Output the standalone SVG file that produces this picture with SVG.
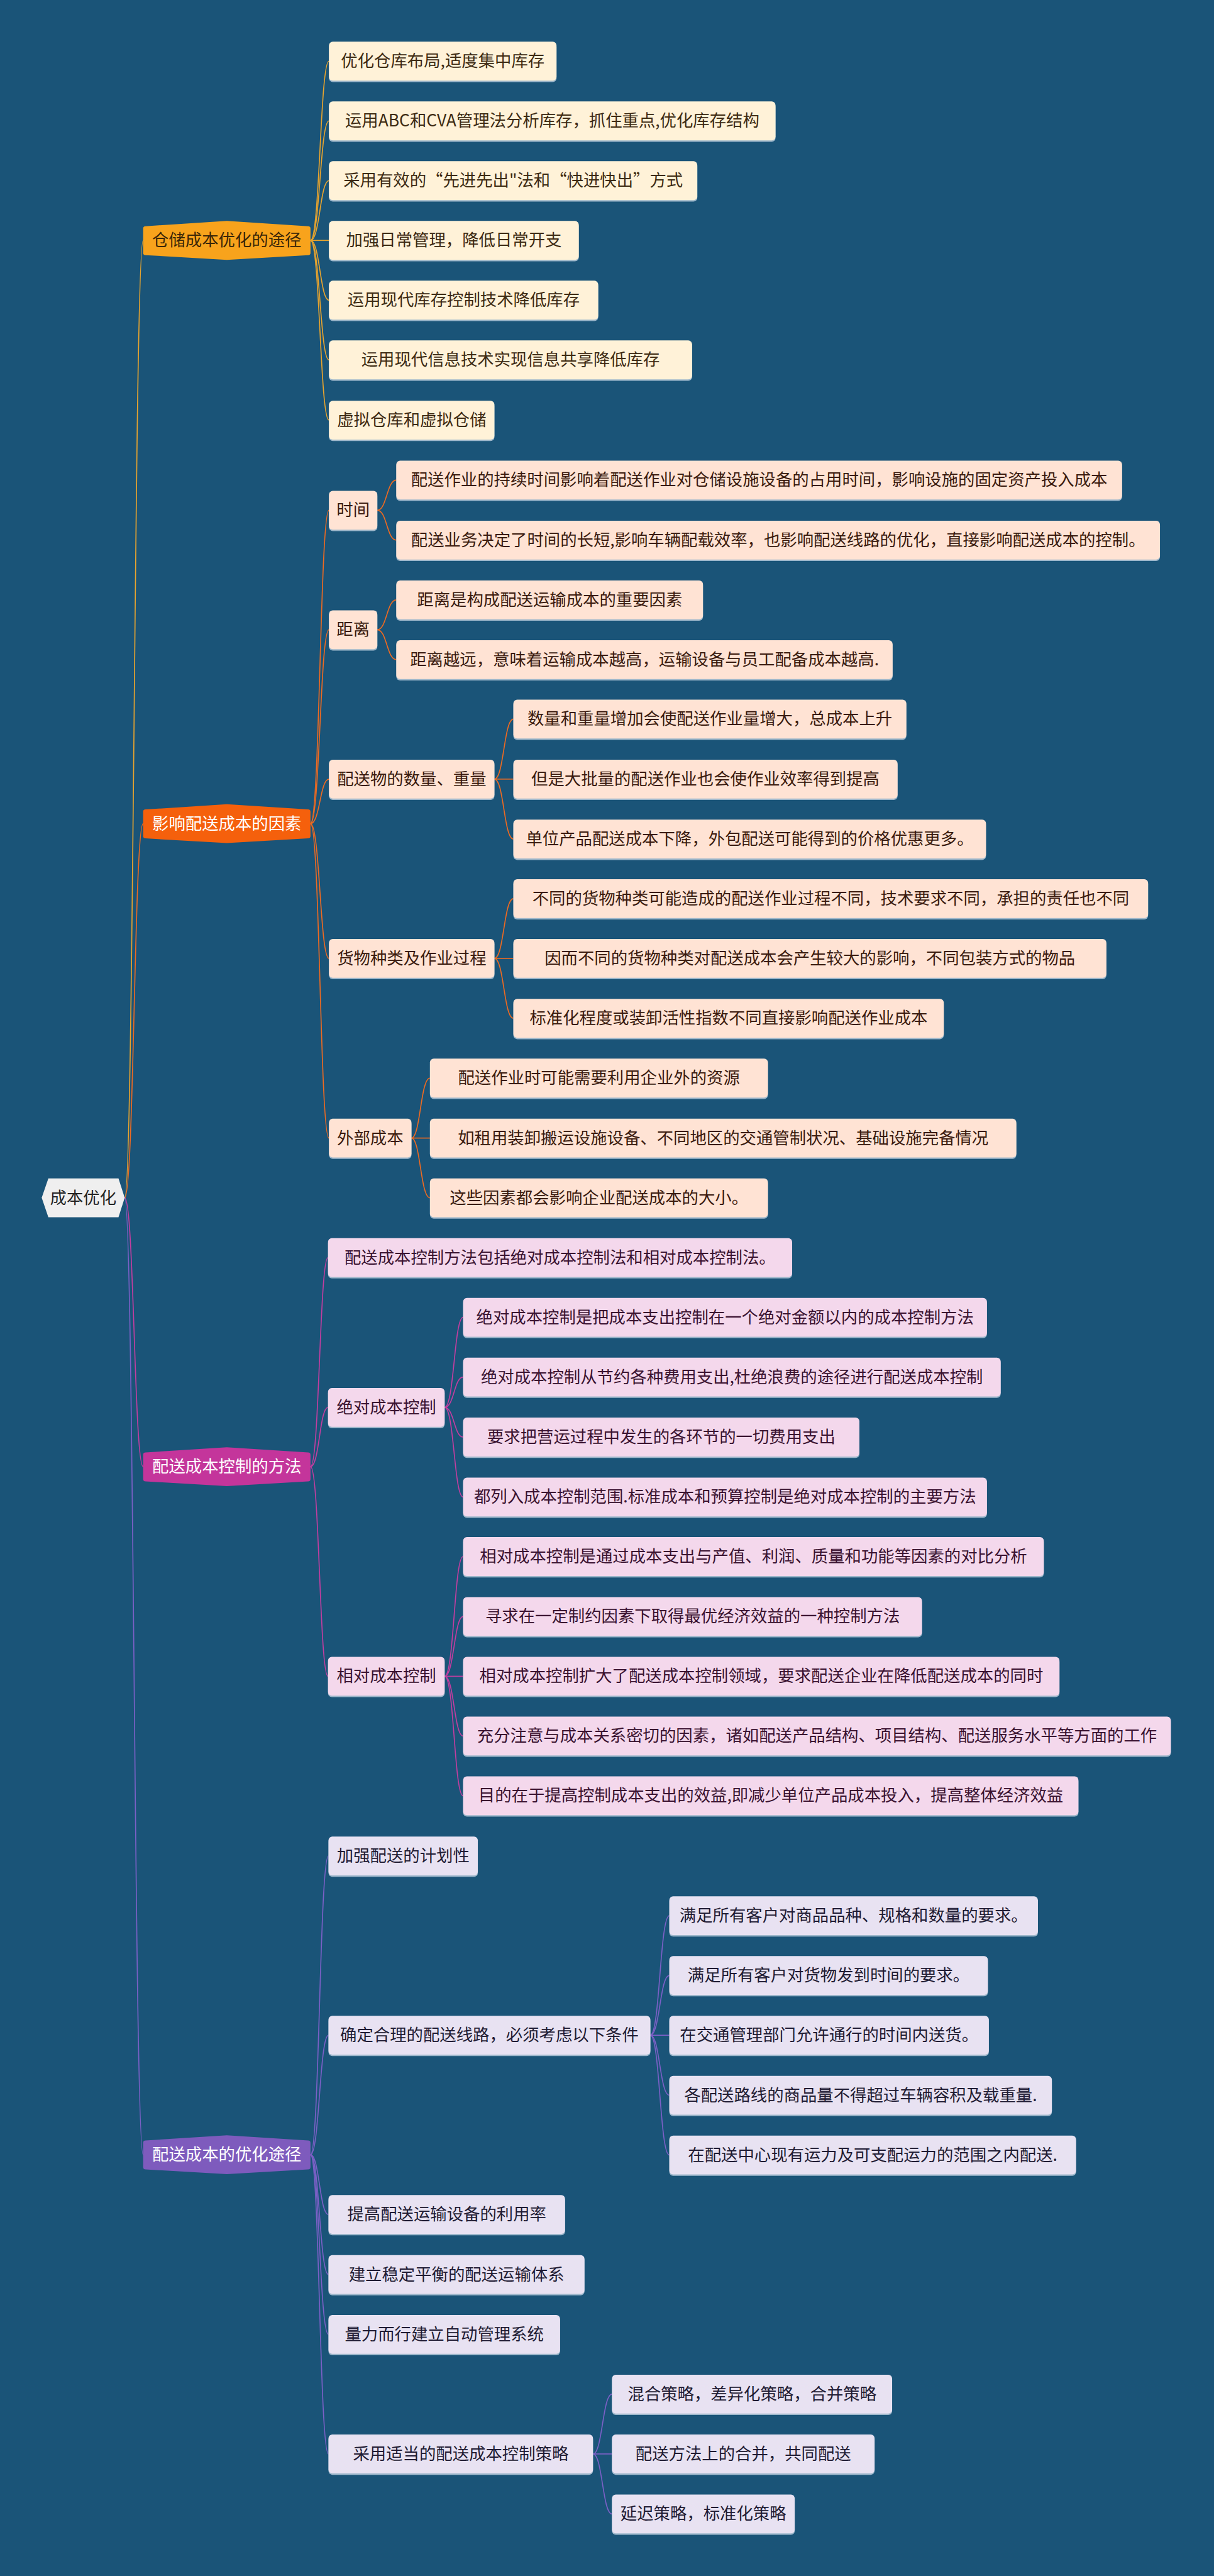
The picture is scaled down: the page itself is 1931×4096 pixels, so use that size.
<svg xmlns="http://www.w3.org/2000/svg" width="1931" height="4096" viewBox="0 0 1931 4096">
<style>
text{font-family:"Noto Sans CJK SC","Noto Sans",sans-serif;font-size:35px;text-anchor:middle}
.sh{fill:#9db7cb}
.c{fill:none;stroke-width:2.2}
.c1{stroke:#e8a42e}.c2{stroke:#ec6a22}.c3{stroke:#c23ea0}.c4{stroke:#7b60c6}
.l1{fill:#fff2d8}.l2{fill:#ffe3d4}.l3{fill:#f4d8ec}.l4{fill:#e8e2f2}
.t1{fill:#3d2a12}.t2{fill:#3a1a0e}.t3{fill:#3a1230}.t4{fill:#1f1b33}
.w{fill:#ffffff}
</style>
<rect x="0" y="0" width="1931" height="4096" fill="#1a5478"/>
<g transform="scale(0.754)">
<g id="connectors">
<path class="c c1" stroke-width="3" d="M263,2526 C283,2526 283,507 302,507"/>
<path class="c c2" stroke-width="3" d="M263,2526 C283,2526 283,1737 302,1737"/>
<path class="c c3" stroke-width="3" d="M263,2526 C283,2526 283,3093 302,3093"/>
<path class="c c4" stroke-width="3" d="M263,2526 C283,2526 283,4544 302,4544"/>
<!-- branch 1 -->
<path class="c c1" d="M655,507 C675,507 675,129 694,129"/>
<path class="c c1" d="M655,507 C675,507 675,255 694,255"/>
<path class="c c1" d="M655,507 C675,507 675,381 694,381"/>
<path class="c c1" d="M655,507 C675,507 675,507 694,507"/>
<path class="c c1" d="M655,507 C675,507 675,633 694,633"/>
<path class="c c1" d="M655,507 C675,507 675,759 694,759"/>
<path class="c c1" d="M655,507 C675,507 675,886 694,886"/>
<!-- branch 2 -->
<path class="c c2" d="M655,1737 C675,1737 675,1076 694,1076"/>
<path class="c c2" d="M655,1737 C675,1737 675,1328 694,1328"/>
<path class="c c2" d="M655,1737 C675,1737 675,1643 694,1643"/>
<path class="c c2" d="M655,1737 C675,1737 675,2021 694,2021"/>
<path class="c c2" d="M655,1737 C675,1737 675,2400 694,2400"/>
<path class="c c2" d="M796,1076 C816,1076 816,1012.5 836,1012.5"/>
<path class="c c2" d="M796,1076 C816,1076 816,1139 836,1139"/>
<path class="c c2" d="M796,1328 C816,1328 816,1265 836,1265"/>
<path class="c c2" d="M796,1328 C816,1328 816,1391 836,1391"/>
<path class="c c2" d="M1043,1643 C1063,1643 1063,1516.5 1083,1516.5"/>
<path class="c c2" d="M1043,1643 C1063,1643 1063,1643 1083,1643"/>
<path class="c c2" d="M1043,1643 C1063,1643 1063,1769.5 1083,1769.5"/>
<path class="c c2" d="M1043,2021 C1063,2021 1063,1895 1083,1895"/>
<path class="c c2" d="M1043,2021 C1063,2021 1063,2021 1083,2021"/>
<path class="c c2" d="M1043,2021 C1063,2021 1063,2147.5 1083,2147.5"/>
<path class="c c2" d="M868,2400 C887,2400 887,2273.5 907,2273.5"/>
<path class="c c2" d="M868,2400 C887,2400 887,2400 907,2400"/>
<path class="c c2" d="M868,2400 C887,2400 887,2526 907,2526"/>
<!-- branch 3 -->
<path class="c c3" d="M655,3093 C674,3093 674,2652 692,2652"/>
<path class="c c3" d="M655,3093 C674,3093 674,2968 692,2968"/>
<path class="c c3" d="M655,3093 C674,3093 674,3535 692,3535"/>
<path class="c c3" d="M938,2968 C958,2968 958,2778 977,2778"/>
<path class="c c3" d="M938,2968 C958,2968 958,2904 977,2904"/>
<path class="c c3" d="M938,2968 C958,2968 958,3030.5 977,3030.5"/>
<path class="c c3" d="M938,2968 C958,2968 958,3157 977,3157"/>
<path class="c c3" d="M938,3535 C958,3535 958,3282.5 977,3282.5"/>
<path class="c c3" d="M938,3535 C958,3535 958,3409 977,3409"/>
<path class="c c3" d="M938,3535 C958,3535 958,3535 977,3535"/>
<path class="c c3" d="M938,3535 C958,3535 958,3661 977,3661"/>
<path class="c c3" d="M938,3535 C958,3535 958,3787 977,3787"/>
<!-- branch 4 -->
<path class="c c4" d="M655,4544 C674,4544 674,3914 693,3914"/>
<path class="c c4" d="M655,4544 C674,4544 674,4292 693,4292"/>
<path class="c c4" d="M655,4544 C674,4544 674,4670 693,4670"/>
<path class="c c4" d="M655,4544 C674,4544 674,4796.5 693,4796.5"/>
<path class="c c4" d="M655,4544 C674,4544 674,4923 693,4923"/>
<path class="c c4" d="M655,4544 C674,4544 674,5175 693,5175"/>
<path class="c c4" d="M1372,4292 C1392,4292 1392,4040 1412,4040"/>
<path class="c c4" d="M1372,4292 C1392,4292 1392,4166 1412,4166"/>
<path class="c c4" d="M1372,4292 C1392,4292 1392,4292 1412,4292"/>
<path class="c c4" d="M1372,4292 C1392,4292 1392,4418.5 1412,4418.5"/>
<path class="c c4" d="M1372,4292 C1392,4292 1392,4544.5 1412,4544.5"/>
<path class="c c4" d="M1251,5175 C1271,5175 1271,5049 1291,5049"/>
<path class="c c4" d="M1251,5175 C1271,5175 1271,5175 1291,5175"/>
<path class="c c4" d="M1251,5175 C1271,5175 1271,5301.5 1291,5301.5"/>
</g>

<g id="root">
<polygon points="88,2526 102,2485 250,2485 263,2526 250,2567 102,2567" fill="#efefef"/>
<text x="175.5" y="2538" fill="#222222">成本优化</text>
</g>

<!-- Branch nodes -->
<g id="b1">
<path d="M302,482 Q302,477 307,477 L478.5,466 L650,477 Q655,477 655,482 L655,533 Q655,538 650,538 L478.5,548 L307,538 Q302,538 302,533 Z" fill="#f8a31c"/>
<text x="478.5" y="519" fill="#3a2608">仓储成本优化的途径</text>
</g>
<g id="b2">
<path d="M302,1712 Q302,1707 307,1707 L478.5,1696 L650,1707 Q655,1707 655,1712 L655,1763 Q655,1768 650,1768 L478.5,1778 L307,1768 Q302,1768 302,1763 Z" fill="#f5600c"/>
<text x="478.5" y="1749" class="w">影响配送成本的因素</text>
</g>
<g id="b3">
<path d="M302,3068 Q302,3063 307,3063 L478.5,3052 L650,3063 Q655,3063 655,3068 L655,3119 Q655,3124 650,3124 L478.5,3134 L307,3124 Q302,3124 302,3119 Z" fill="#c4359b"/>
<text x="478.5" y="3105" class="w">配送成本控制的方法</text>
</g>
<g id="b4">
<path d="M302,4519 Q302,4514 307,4514 L478.5,4503 L650,4514 Q655,4514 655,4519 L655,4570 Q655,4575 650,4575 L478.5,4585 L307,4575 Q302,4575 302,4570 Z" fill="#7e5bbd"/>
<text x="478.5" y="4556" class="w">配送成本的优化途径</text>
</g>

<!-- Branch 1 leaves -->
<g id="b1n1"><rect class="sh" x="694" y="91" width="480" height="82" rx="8"/><rect class="l1" x="694" y="88" width="480" height="82" rx="8"/><text class="t1" x="934" y="141">优化仓库布局,适度集中库存</text></g>
<g id="b1n2"><rect class="sh" x="694" y="217" width="942" height="82" rx="8"/><rect class="l1" x="694" y="214" width="942" height="82" rx="8"/><text class="t1" x="1165" y="267">运用ABC和CVA管理法分析库存，抓住重点,优化库存结构</text></g>
<g id="b1n3"><rect class="sh" x="694" y="343" width="777" height="82" rx="8"/><rect class="l1" x="694" y="340" width="777" height="82" rx="8"/><text class="t1" x="1082.5" y="393">采用有效的“先进先出"法和“快进快出”方式</text></g>
<g id="b1n4"><rect class="sh" x="694" y="469" width="527" height="82" rx="8"/><rect class="l1" x="694" y="466" width="527" height="82" rx="8"/><text class="t1" x="957.5" y="519">加强日常管理，降低日常开支</text></g>
<g id="b1n5"><rect class="sh" x="694" y="595" width="568" height="82" rx="8"/><rect class="l1" x="694" y="592" width="568" height="82" rx="8"/><text class="t1" x="978" y="645">运用现代库存控制技术降低库存</text></g>
<g id="b1n6"><rect class="sh" x="694" y="721" width="766" height="82" rx="8"/><rect class="l1" x="694" y="718" width="766" height="82" rx="8"/><text class="t1" x="1077" y="771">运用现代信息技术实现信息共享降低库存</text></g>
<g id="b1n7"><rect class="sh" x="694" y="848" width="349" height="82" rx="8"/><rect class="l1" x="694" y="845" width="349" height="82" rx="8"/><text class="t1" x="868.5" y="898">虚拟仓库和虚拟仓储</text></g>

<!-- Branch 2 -->
<g id="b2s1"><rect class="sh" x="694" y="1038" width="102" height="82" rx="8"/><rect class="l2" x="694" y="1035" width="102" height="82" rx="8"/><text class="t2" x="745" y="1088">时间</text></g>
<g id="b2s1a"><rect class="sh" x="836" y="974.5" width="1531" height="82" rx="8"/><rect class="l2" x="836" y="971.5" width="1531" height="82" rx="8"/><text class="t2" x="1601.5" y="1024.5">配送作业的持续时间影响着配送作业对仓储设施设备的占用时间，影响设施的固定资产投入成本</text></g>
<g id="b2s1b"><rect class="sh" x="836" y="1101" width="1611" height="82" rx="8"/><rect class="l2" x="836" y="1098" width="1611" height="82" rx="8"/><text class="t2" x="1641.5" y="1151">配送业务决定了时间的长短,影响车辆配载效率，也影响配送线路的优化，直接影响配送成本的控制。</text></g>
<g id="b2s2"><rect class="sh" x="694" y="1290" width="102" height="82" rx="8"/><rect class="l2" x="694" y="1287" width="102" height="82" rx="8"/><text class="t2" x="745" y="1340">距离</text></g>
<g id="b2s2a"><rect class="sh" x="836" y="1227" width="647" height="82" rx="8"/><rect class="l2" x="836" y="1224" width="647" height="82" rx="8"/><text class="t2" x="1159.5" y="1277">距离是构成配送运输成本的重要因素</text></g>
<g id="b2s2b"><rect class="sh" x="836" y="1353" width="1047" height="82" rx="8"/><rect class="l2" x="836" y="1350" width="1047" height="82" rx="8"/><text class="t2" x="1359.5" y="1403">距离越远，意味着运输成本越高，运输设备与员工配备成本越高.</text></g>
<g id="b2s3"><rect class="sh" x="694" y="1605" width="349" height="82" rx="8"/><rect class="l2" x="694" y="1602" width="349" height="82" rx="8"/><text class="t2" x="868.5" y="1655">配送物的数量、重量</text></g>
<g id="b2s3a"><rect class="sh" x="1083" y="1478.5" width="829" height="82" rx="8"/><rect class="l2" x="1083" y="1475.5" width="829" height="82" rx="8"/><text class="t2" x="1497.5" y="1528.5">数量和重量增加会使配送作业量增大，总成本上升</text></g>
<g id="b2s3b"><rect class="sh" x="1083" y="1605" width="810.5" height="82" rx="8"/><rect class="l2" x="1083" y="1602" width="810.5" height="82" rx="8"/><text class="t2" x="1488" y="1655">但是大批量的配送作业也会使作业效率得到提高</text></g>
<g id="b2s3c"><rect class="sh" x="1083" y="1731.5" width="997" height="82" rx="8"/><rect class="l2" x="1083" y="1728.5" width="997" height="82" rx="8"/><text class="t2" x="1581.5" y="1781.5">单位产品配送成本下降，外包配送可能得到的价格优惠更多。</text></g>
<g id="b2s4"><rect class="sh" x="694" y="1983" width="349" height="82" rx="8"/><rect class="l2" x="694" y="1980" width="349" height="82" rx="8"/><text class="t2" x="868.5" y="2033">货物种类及作业过程</text></g>
<g id="b2s4a"><rect class="sh" x="1083" y="1857" width="1339" height="82" rx="8"/><rect class="l2" x="1083" y="1854" width="1339" height="82" rx="8"/><text class="t2" x="1752.5" y="1907">不同的货物种类可能造成的配送作业过程不同，技术要求不同，承担的责任也不同</text></g>
<g id="b2s4b"><rect class="sh" x="1083" y="1983" width="1251" height="82" rx="8"/><rect class="l2" x="1083" y="1980" width="1251" height="82" rx="8"/><text class="t2" x="1708.5" y="2033">因而不同的货物种类对配送成本会产生较大的影响，不同包装方式的物品</text></g>
<g id="b2s4c"><rect class="sh" x="1083" y="2109.5" width="908" height="82" rx="8"/><rect class="l2" x="1083" y="2106.5" width="908" height="82" rx="8"/><text class="t2" x="1537" y="2159.5">标准化程度或装卸活性指数不同直接影响配送作业成本</text></g>
<g id="b2s5"><rect class="sh" x="694" y="2362" width="174" height="82" rx="8"/><rect class="l2" x="694" y="2359" width="174" height="82" rx="8"/><text class="t2" x="781" y="2412">外部成本</text></g>
<g id="b2s5a"><rect class="sh" x="907" y="2235.5" width="713" height="82" rx="8"/><rect class="l2" x="907" y="2232.5" width="713" height="82" rx="8"/><text class="t2" x="1263.5" y="2285.5">配送作业时可能需要利用企业外的资源</text></g>
<g id="b2s5b"><rect class="sh" x="907" y="2362" width="1237" height="82" rx="8"/><rect class="l2" x="907" y="2359" width="1237" height="82" rx="8"/><text class="t2" x="1525.5" y="2412">如租用装卸搬运设施设备、不同地区的交通管制状况、基础设施完备情况</text></g>
<g id="b2s5c"><rect class="sh" x="907" y="2488" width="713" height="82" rx="8"/><rect class="l2" x="907" y="2485" width="713" height="82" rx="8"/><text class="t2" x="1263.5" y="2538">这些因素都会影响企业配送成本的大小。</text></g>

<!-- Branch 3 -->
<g id="b3n1"><rect class="sh" x="692" y="2614" width="979" height="82" rx="8"/><rect class="l3" x="692" y="2611" width="979" height="82" rx="8"/><text class="t3" x="1181.5" y="2664">配送成本控制方法包括绝对成本控制法和相对成本控制法。</text></g>
<g id="b3s1"><rect class="sh" x="692" y="2930" width="246" height="82" rx="8"/><rect class="l3" x="692" y="2927" width="246" height="82" rx="8"/><text class="t3" x="815" y="2980">绝对成本控制</text></g>
<g id="b3s1a"><rect class="sh" x="977" y="2740" width="1105" height="82" rx="8"/><rect class="l3" x="977" y="2737" width="1105" height="82" rx="8"/><text class="t3" x="1529.5" y="2790">绝对成本控制是把成本支出控制在一个绝对金额以内的成本控制方法</text></g>
<g id="b3s1b"><rect class="sh" x="977" y="2866" width="1134" height="82" rx="8"/><rect class="l3" x="977" y="2863" width="1134" height="82" rx="8"/><text class="t3" x="1544" y="2916">绝对成本控制从节约各种费用支出,杜绝浪费的途径进行配送成本控制</text></g>
<g id="b3s1c"><rect class="sh" x="977" y="2992.5" width="836" height="82" rx="8"/><rect class="l3" x="977" y="2989.5" width="836" height="82" rx="8"/><text class="t3" x="1395" y="3042.5">要求把营运过程中发生的各环节的一切费用支出</text></g>
<g id="b3s1d"><rect class="sh" x="977" y="3119" width="1105" height="82" rx="8"/><rect class="l3" x="977" y="3116" width="1105" height="82" rx="8"/><text class="t3" x="1529.5" y="3169">都列入成本控制范围.标准成本和预算控制是绝对成本控制的主要方法</text></g>
<g id="b3s2"><rect class="sh" x="692" y="3497" width="246" height="82" rx="8"/><rect class="l3" x="692" y="3494" width="246" height="82" rx="8"/><text class="t3" x="815" y="3547">相对成本控制</text></g>
<g id="b3s2a"><rect class="sh" x="977" y="3244.5" width="1225" height="82" rx="8"/><rect class="l3" x="977" y="3241.5" width="1225" height="82" rx="8"/><text class="t3" x="1589.5" y="3294.5">相对成本控制是通过成本支出与产值、利润、质量和功能等因素的对比分析</text></g>
<g id="b3s2b"><rect class="sh" x="977" y="3371" width="968" height="82" rx="8"/><rect class="l3" x="977" y="3368" width="968" height="82" rx="8"/><text class="t3" x="1461" y="3421">寻求在一定制约因素下取得最优经济效益的一种控制方法</text></g>
<g id="b3s2c"><rect class="sh" x="977" y="3497" width="1258" height="82" rx="8"/><rect class="l3" x="977" y="3494" width="1258" height="82" rx="8"/><text class="t3" x="1606" y="3547">相对成本控制扩大了配送成本控制领域，要求配送企业在降低配送成本的同时</text></g>
<g id="b3s2d"><rect class="sh" x="977" y="3623" width="1493" height="82" rx="8"/><rect class="l3" x="977" y="3620" width="1493" height="82" rx="8"/><text class="t3" x="1723.5" y="3673">充分注意与成本关系密切的因素，诸如配送产品结构、项目结构、配送服务水平等方面的工作</text></g>
<g id="b3s2e"><rect class="sh" x="977" y="3749" width="1298" height="82" rx="8"/><rect class="l3" x="977" y="3746" width="1298" height="82" rx="8"/><text class="t3" x="1626" y="3799">目的在于提高控制成本支出的效益,即减少单位产品成本投入，提高整体经济效益</text></g>

<!-- Branch 4 -->
<g id="b4n1"><rect class="sh" x="693" y="3876" width="315" height="82" rx="8"/><rect class="l4" x="693" y="3873" width="315" height="82" rx="8"/><text class="t4" x="850.5" y="3926">加强配送的计划性</text></g>
<g id="b4s1"><rect class="sh" x="693" y="4254" width="679" height="82" rx="8"/><rect class="l4" x="693" y="4251" width="679" height="82" rx="8"/><text class="t4" x="1032.5" y="4304">确定合理的配送线路，必须考虑以下条件</text></g>
<g id="b4s1a"><rect class="sh" x="1412" y="4002" width="777.5" height="82" rx="8"/><rect class="l4" x="1412" y="3999" width="777.5" height="82" rx="8"/><text class="t4" x="1800.75" y="4052">满足所有客户对商品品种、规格和数量的要求。</text></g>
<g id="b4s1b"><rect class="sh" x="1412" y="4128" width="672" height="82" rx="8"/><rect class="l4" x="1412" y="4125" width="672" height="82" rx="8"/><text class="t4" x="1748" y="4178">满足所有客户对货物发到时间的要求。</text></g>
<g id="b4s1c"><rect class="sh" x="1412" y="4254" width="674" height="82" rx="8"/><rect class="l4" x="1412" y="4251" width="674" height="82" rx="8"/><text class="t4" x="1749" y="4304">在交通管理部门允许通行的时间内送货。</text></g>
<g id="b4s1d"><rect class="sh" x="1412" y="4380.5" width="807" height="82" rx="8"/><rect class="l4" x="1412" y="4377.5" width="807" height="82" rx="8"/><text class="t4" x="1815.5" y="4430.5">各配送路线的商品量不得超过车辆容积及载重量.</text></g>
<g id="b4s1e"><rect class="sh" x="1412" y="4506.5" width="858" height="82" rx="8"/><rect class="l4" x="1412" y="4503.5" width="858" height="82" rx="8"/><text class="t4" x="1841" y="4556.5">在配送中心现有运力及可支配运力的范围之内配送.</text></g>
<g id="b4n2"><rect class="sh" x="693" y="4632" width="499" height="82" rx="8"/><rect class="l4" x="693" y="4629" width="499" height="82" rx="8"/><text class="t4" x="942.5" y="4682">提高配送运输设备的利用率</text></g>
<g id="b4n3"><rect class="sh" x="693" y="4758.5" width="540" height="82" rx="8"/><rect class="l4" x="693" y="4755.5" width="540" height="82" rx="8"/><text class="t4" x="963" y="4808.5">建立稳定平衡的配送运输体系</text></g>
<g id="b4n4"><rect class="sh" x="693" y="4885" width="488.5" height="82" rx="8"/><rect class="l4" x="693" y="4882" width="488.5" height="82" rx="8"/><text class="t4" x="937.25" y="4935">量力而行建立自动管理系统</text></g>
<g id="b4s2"><rect class="sh" x="693" y="5137" width="558" height="82" rx="8"/><rect class="l4" x="693" y="5134" width="558" height="82" rx="8"/><text class="t4" x="972" y="5187">采用适当的配送成本控制策略</text></g>
<g id="b4s2a"><rect class="sh" x="1291" y="5011" width="591" height="82" rx="8"/><rect class="l4" x="1291" y="5008" width="591" height="82" rx="8"/><text class="t4" x="1586.5" y="5061">混合策略，差异化策略，合并策略</text></g>
<g id="b4s2b"><rect class="sh" x="1291" y="5137" width="554" height="82" rx="8"/><rect class="l4" x="1291" y="5134" width="554" height="82" rx="8"/><text class="t4" x="1568" y="5187">配送方法上的合并，共同配送</text></g>
<g id="b4s2c"><rect class="sh" x="1291" y="5263.5" width="385.5" height="82" rx="8"/><rect class="l4" x="1291" y="5260.5" width="385.5" height="82" rx="8"/><text class="t4" x="1483.75" y="5313.5">延迟策略，标准化策略</text></g>
</g>
</svg>
